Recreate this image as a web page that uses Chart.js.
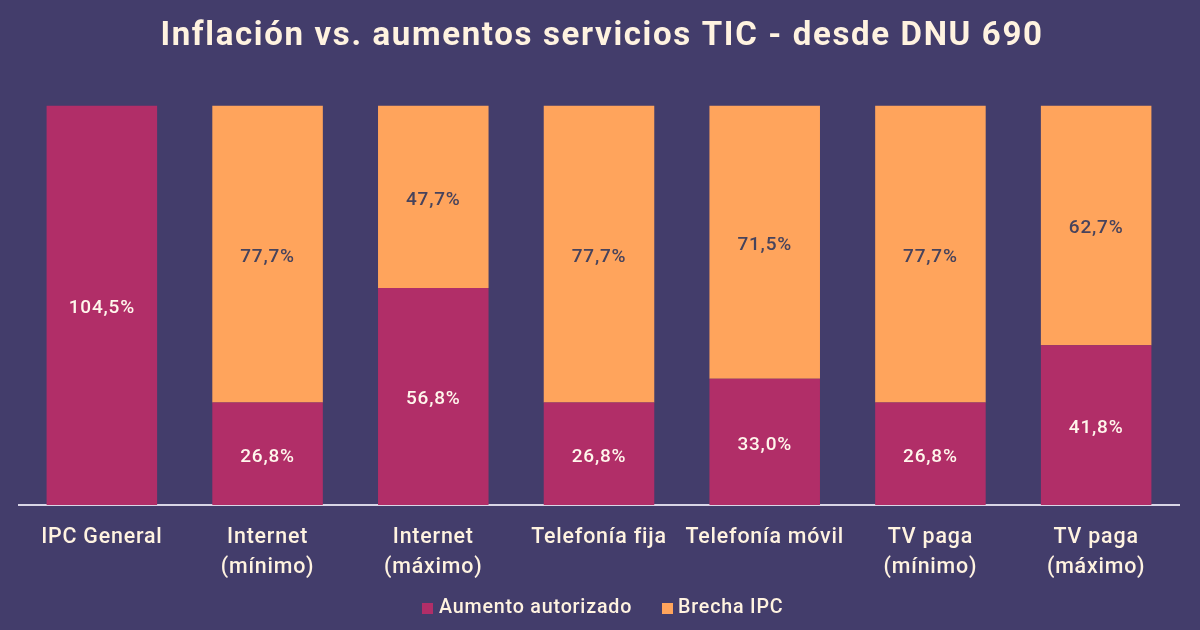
<!DOCTYPE html>
<html lang="es">
<head>
<meta charset="utf-8">
<title>Inflación vs. aumentos servicios TIC</title>
<script src="https://cdn.jsdelivr.net/npm/chart.js@4"></script>
<style>
  html, body { margin: 0; padding: 0; background: #433d6b; }
  #wrap { width: 1200px; height: 630px; }
</style>
</head>
<body>
<div id="wrap"><canvas id="chart" width="1200" height="630"></canvas></div>
<script>
const categories = ['IPC General', ['Internet', '(mínimo)'], ['Internet', '(máximo)'], 'Telefonía fija', 'Telefonía móvil', ['TV paga', '(mínimo)'], ['TV paga', '(máximo)']];
const aumento = [104.5, 26.8, 56.8, 26.8, 33.0, 26.8, 41.8];
const brecha = [null, 77.7, 47.7, 77.7, 71.5, 77.7, 62.7];
const seriesNames = ['Aumento autorizado', 'Brecha IPC'];
const titleText = 'Inflación vs. aumentos servicios TIC - desde DNU 690';

const FONT = 'Roboto, "Noto Sans", sans-serif';
const CREAM = '#fff3e0';

// valores dentro de cada tramo, formato con coma
const barLabels = {
  id: 'barLabels',
  afterDatasetsDraw(chart) {
    const ctx = chart.ctx;
    ctx.save();
    ctx.font = '500 19px ' + FONT;
    ctx.textAlign = 'center';
    ctx.textBaseline = 'middle';
    chart.data.datasets.forEach((ds, i) => {
      chart.getDatasetMeta(i).data.forEach((bar, j) => {
        if (ds.data[j] == null) return;
        const p = bar.getProps(['x', 'y', 'base'], true);
        ctx.fillStyle = i === 0 ? '#fff6ec' : '#47435c';
        ctx.fillText(ds.data[j].toFixed(1).replace('.', ',') + '%', p.x, (p.y + p.base) / 2 + 3);
      });
    });
    ctx.restore();
  }
};

// leyenda propia: la de Chart.js fija el hueco cuadro-texto y une padding horizontal y vertical
const legendBox = {
  id: 'legendBox',
  afterDraw(chart) {
    const ctx = chart.ctx;
    const boxX = [422, 662];
    const textX = [439, 678];
    ctx.save();
    ctx.font = '500 19.7px ' + FONT;
    ctx.textBaseline = 'middle';
    chart.data.datasets.forEach((ds, i) => {
      ctx.fillStyle = ds.backgroundColor;
      ctx.fillRect(boxX[i], 603, 11, 11);
      ctx.fillStyle = CREAM;
      ctx.fillText(ds.label, textX[i], 608);
    });
    ctx.restore();
  }
};

// espaciado de letras del canvas, hay que fijarlo antes de medir y de dibujar
const spacing = {
  id: 'spacing',
  beforeLayout(chart) { chart.ctx.letterSpacing = '0.8px'; },
  beforeDraw(chart) {
    chart.ctx.letterSpacing = '0.8px';
    // el titulo va mas espaciado que el resto
    const t = chart.titleBlock;
    if (t._spaced) return;
    t._spaced = true;
    const draw = t.draw;
    t.draw = function () {
      const ctx = chart.ctx;
      ctx.save();
      ctx.letterSpacing = '1.65px';
      ctx.translate(3, 0);
      draw.call(t);
      ctx.restore();
    };
  }
};

new Chart(document.getElementById('chart'), {
  type: 'bar',
  data: {
    labels: categories,
    datasets: [
      { label: seriesNames[0], data: aumento, backgroundColor: '#b12e68', borderWidth: 0 },
      { label: seriesNames[1], data: brecha, backgroundColor: '#ffa45c', borderWidth: 0 }
    ]
  },
  options: {
    responsive: false,
    animation: false,
    layout: { padding: { left: 19, right: 21, top: 17, bottom: 0 } },
    datasets: { bar: { categoryPercentage: 0.667, barPercentage: 1 } },
    plugins: {
      tooltip: { enabled: false },
      title: {
        display: true,
        text: titleText,
        color: CREAM,
        font: { family: FONT, size: 33, weight: '700' },
        padding: { top: 0, bottom: 49 }
      },
      legend: { display: false }
    },
    scales: {
      x: {
        stacked: true,
        afterFit: s => { s.height = 125; },
        grid: { drawOnChartArea: false, drawTicks: false, color: 'transparent' },
        border: { color: '#d9d6e6', width: 2 },
        ticks: {
          color: CREAM,
          font: { family: FONT, size: 21.4, weight: '500', lineHeight: 1.38 },
          maxRotation: 0,
          padding: 18,
          autoSkip: false
        }
      },
      y: { stacked: true, display: false, min: 0, max: 104.5 }
    }
  },
  plugins: [barLabels, legendBox, spacing]
});
</script>
</body>
</html>
